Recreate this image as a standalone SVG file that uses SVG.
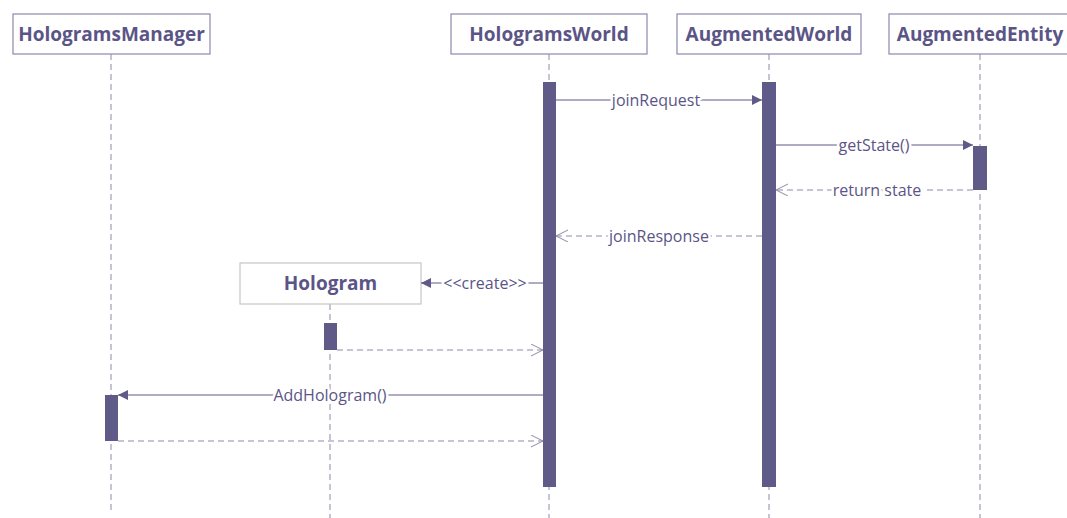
<svg xmlns="http://www.w3.org/2000/svg" width="1067" height="518" viewBox="0 0 1067 518">
  <style>
    .box { fill: #ffffff; stroke: #8c87b0; stroke-width: 1.2; }
    .box.plain { stroke: #c6c6c6; }
    .title { font-family: "Open Sans", "Liberation Sans", sans-serif; font-weight: bold; font-size: 19px; fill: #5b5587; text-anchor: middle; }
    .life { stroke: #8f8aa8; stroke-width: 1; stroke-dasharray: 6 4; fill: none; }
    .act { fill: #5f5a87; }
    .msg { stroke: #5f5a87; stroke-width: 1; fill: none; }
    .ret { stroke: #8f8aa8; stroke-width: 1; fill: none; stroke-dasharray: 6 4; }
    /* labels sit on the line; a white halo breaks the line around the text */
    .lbl { font-family: "Open Sans", "Liberation Sans", sans-serif; font-size: 16px; fill: #5b5587; text-anchor: middle;
           stroke: #ffffff; stroke-width: 5; paint-order: stroke; stroke-linejoin: round; }
  </style>
  <defs>
    <marker id="solidHead" markerWidth="12" markerHeight="12" refX="10" refY="5" orient="auto" markerUnits="userSpaceOnUse">
      <path d="M0,0 L10,5 L0,10 Z" fill="#5f5a87"/>
    </marker>
    <marker id="openHead" markerWidth="14" markerHeight="14" refX="12" refY="6" orient="auto" markerUnits="userSpaceOnUse">
      <path d="M0,0 L12,6 L0,12" fill="none" stroke="#8f8aa8" stroke-width="1"/>
    </marker>
  </defs>

  <rect width="1067" height="518" fill="#ffffff"/>

  <!-- lifelines -->
  <g id="lifelines">
    <line class="life" x1="111" y1="54" x2="111" y2="512"/>
    <line class="life" x1="549" y1="54" x2="549" y2="518"/>
    <line class="life" x1="769" y1="54" x2="769" y2="518"/>
    <line class="life" x1="980" y1="54" x2="980" y2="518"/>
    <line class="life" x1="330" y1="304" x2="330" y2="518"/>
  </g>

  <!-- participants -->
  <g id="HologramsManager">
    <rect class="box" x="13" y="14" width="197" height="40"/>
    <text class="title" x="111.5" y="41">HologramsManager</text>
    <rect class="act" x="105" y="395" width="13" height="46"/>
  </g>
  <g id="HologramsWorld">
    <rect class="box" x="451" y="14" width="196" height="40"/>
    <text class="title" x="549" y="41">HologramsWorld</text>
    <rect class="act" x="543" y="82" width="13" height="405"/>
  </g>
  <g id="AugmentedWorld">
    <rect class="box" x="677" y="14" width="184" height="40"/>
    <text class="title" x="769" y="41">AugmentedWorld</text>
    <rect class="act" x="762" y="82" width="14" height="405"/>
  </g>
  <g id="AugmentedEntity">
    <rect class="box" x="889" y="14" width="182" height="40"/>
    <text class="title" x="980" y="41">AugmentedEntity</text>
    <rect class="act" x="973" y="146" width="14" height="44"/>
  </g>
  <g id="Hologram">
    <rect class="box plain" x="240" y="263" width="181" height="41"/>
    <text class="title" x="330.5" y="290">Hologram</text>
    <rect class="act" x="324" y="323" width="13" height="27"/>
  </g>

  <!-- messages -->
  <g id="connectors">
    <line class="msg" x1="556" y1="100" x2="762" y2="100" marker-end="url(#solidHead)"/>
    <text class="lbl" x="656" y="106">joinRequest</text>

    <line class="msg" x1="776" y1="145" x2="973" y2="145" marker-end="url(#solidHead)"/>
    <text class="lbl" x="874" y="151">getState()</text>

    <line class="ret" x1="973" y1="190" x2="776" y2="190" marker-end="url(#openHead)"/>
    <text class="lbl" x="877" y="196">return state</text>

    <line class="ret" x1="762" y1="236" x2="556" y2="236" marker-end="url(#openHead)"/>
    <text class="lbl" x="659" y="242">joinResponse</text>

    <line class="msg" x1="543" y1="283" x2="421" y2="283" marker-end="url(#solidHead)"/>
    <text class="lbl" x="485" y="289">&lt;&lt;create&gt;&gt;</text>

    <line class="ret" x1="337" y1="350" x2="543" y2="350" marker-end="url(#openHead)"/>

    <line class="msg" x1="543" y1="395" x2="118" y2="395" marker-end="url(#solidHead)"/>
    <text class="lbl" x="330" y="401">AddHologram()</text>

    <line class="ret" x1="118" y1="441" x2="543" y2="441" marker-end="url(#openHead)"/>
  </g>
</svg>
